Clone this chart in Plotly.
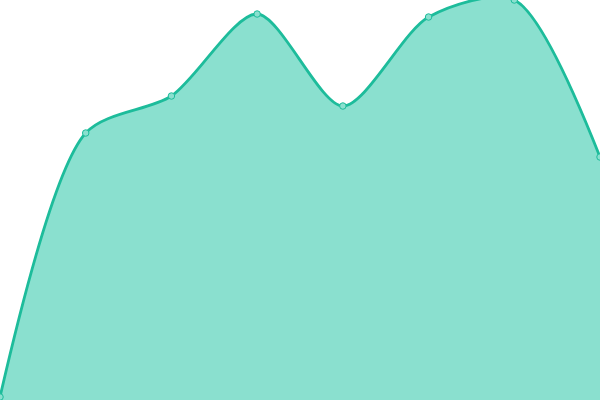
import plotly.graph_objects as go

categories = ["A", "B", "C", "D", "E", "F", "G", "H"]
values = [0.75, 66.75, 76, 96.5, 73.5, 95.75, 100, 60.75]

x_idx = list(range(len(categories)))

fig = go.Figure()
fig.add_trace(go.Scatter(
    x=x_idx, y=values,
    mode="lines+markers",
    line=dict(color="#1dbc9b", width=2.8, shape="spline", smoothing=0.8),
    marker=dict(size=6.5, color="#8ae0cf", line=dict(color="#1dbc9b", width=1)),
    fill="tozeroy",
    fillcolor="#8ae0cf",
    hoverinfo="skip",
))
fig.update_layout(
    width=600, height=400,
    margin=dict(l=0, r=0, t=0, b=0),
    paper_bgcolor="white", plot_bgcolor="white",
    showlegend=False,
    xaxis=dict(range=[0, len(categories) - 1], visible=False, fixedrange=True),
    yaxis=dict(range=[0, 100], visible=False, fixedrange=True),
)
fig.write_html("out.html", config={"displayModeBar": False},
               post_script="document.body.style.margin='0';document.body.style.overflow='hidden';")
